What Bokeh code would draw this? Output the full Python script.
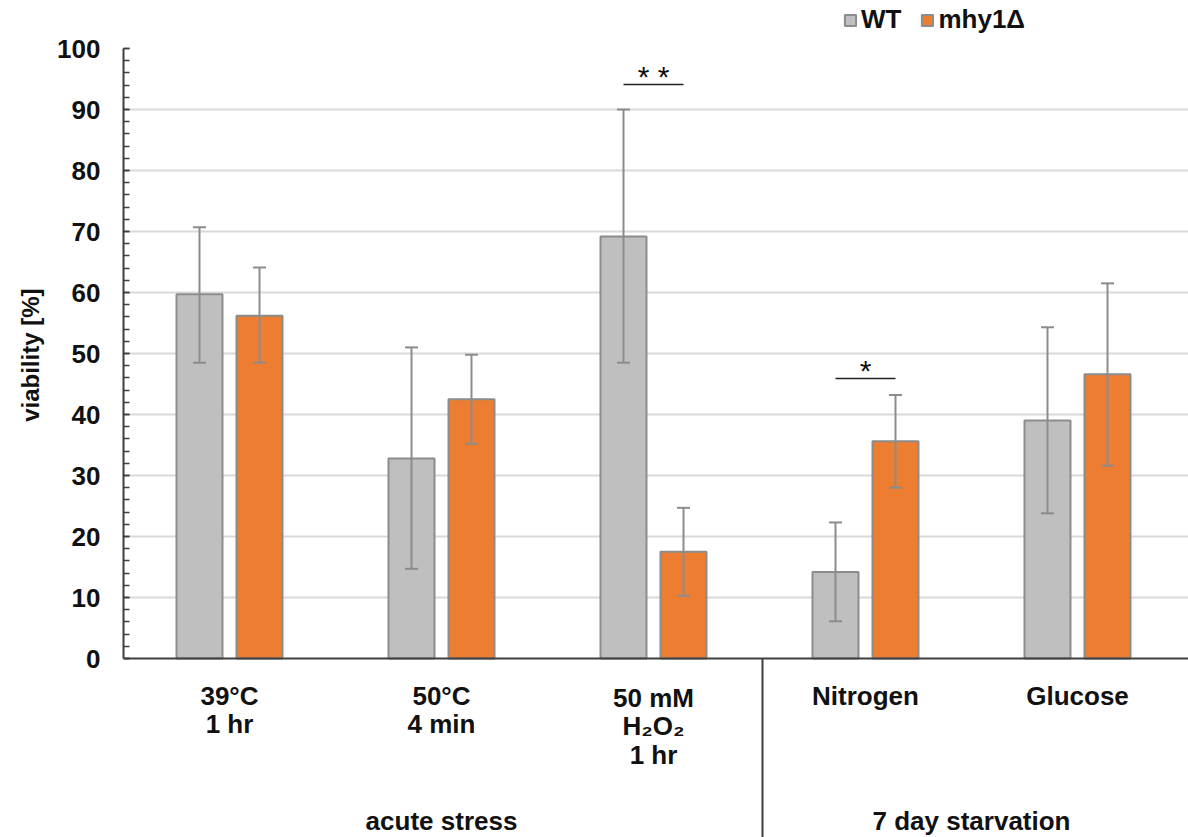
from bokeh.plotting import figure
from bokeh.models import (FixedTicker, Span, Whisker, TeeHead, ColumnDataSource,
                          Legend, LegendItem, Title)
from bokeh.core.properties import value
from bokeh.embed import file_html
from bokeh.resources import INLINE

# ---------------- data ----------------
categories = [["39°C", "1 hr"], ["50°C", "4 min"], ["50 mM", "H₂O₂", "1 hr"],
              ["Nitrogen"], ["Glucose"]]
groups = ["acute stress", "7 day starvation"]
series = ["WT", "mhy1Δ"]
wt_mean = [59.7, 32.8, 69.2, 14.2, 39.0]
wt_lower = [48.5, 14.7, 48.5, 6.1, 23.8]
wt_upper = [70.7, 51.0, 90.0, 22.3, 54.3]
mhy_mean = [56.2, 42.5, 17.5, 35.6, 46.6]
mhy_lower = [48.5, 35.2, 10.3, 28.0, 31.6]
mhy_upper = [64.1, 49.8, 24.7, 43.2, 61.5]
sig_index = [2, 3]
sig_text = ["* *", "*"]
sig_level = [94.1, 45.9]
y_ticks = list(range(0, 101, 10))
y_minor = list(range(0, 101, 2))
grid_ticks = list(range(10, 100, 10))

# ---------------- layout ----------------
W, H = 1188, 837
LEFT = 123
PXU = 6.1            # pixels per y unit
GW = 212.0           # pixels per group
y_start = -(H - 658) / PXU
y_end = 100 + 48 / PXU
x_end = (W - LEFT) / GW
off = 30 / GW
bw = 46 / GW

def py(page_y):
    return (658 - page_y) / PXU

FONT = "Liberation Sans"
TXT = "#111111"
AXC = "#3f3f3f"

p = figure(width=W, height=H, x_range=(0, x_end), y_range=(y_start, y_end),
           x_axis_location=None, output_backend="svg", toolbar_location=None,
           min_border_left=LEFT, min_border_right=0, min_border_top=0,
           min_border_bottom=0)
p.outline_line_color = None
p.background_fill_color = "white"
p.xgrid.visible = False

# grid
p.ygrid.ticker = FixedTicker(ticks=grid_ticks)
p.ygrid.grid_line_color = "#d9d9d9"
p.ygrid.grid_line_width = 2

# y axis
ax = p.yaxis[0]
ax.ticker = FixedTicker(ticks=y_ticks, minor_ticks=y_minor)
ax.bounds = (0, 100)
ax.axis_line_color = AXC
ax.axis_line_width = 2
ax.major_tick_line_color = AXC
ax.minor_tick_line_color = AXC
ax.major_tick_line_width = 1.5
ax.minor_tick_line_width = 1.5
ax.major_tick_in = 6
ax.major_tick_out = 0
ax.minor_tick_in = 6
ax.minor_tick_out = 0
ax.major_label_standoff = 23
ax.major_label_text_font = FONT
ax.major_label_text_font_style = "bold"
ax.major_label_text_font_size = "26px"
ax.major_label_text_color = TXT

# y axis title, placed beside the 0-100 span
p.add_layout(Title(text="viability [%]", align="right", offset=288,
                   vertical_align="bottom", standoff=22, text_font=FONT,
                   text_font_style="bold", text_font_size="24px",
                   text_color=TXT), "left")

# bars
xs = [i + 0.5 for i in range(len(categories))]
wt_x = [x - off for x in xs]
mhy_x = [x + off for x in xs]
r_wt = p.vbar(x=wt_x, top=wt_mean, bottom=0, width=bw, fill_color="#bfbfbf",
              line_color="#8c8c8c", line_width=2)
r_mhy = p.vbar(x=mhy_x, top=mhy_mean, bottom=0, width=bw, fill_color="#ed7d31",
               line_color="#8c8c8c", line_width=2)

# error bars
for bx, lo, up in [(wt_x, wt_lower, wt_upper), (mhy_x, mhy_lower, mhy_upper)]:
    src = ColumnDataSource(dict(base=bx, lower=lo, upper=up))
    p.add_layout(Whisker(source=src, base="base", lower="lower", upper="upper",
                         dimension="height", line_color="#8c8c8c", line_width=2,
                         level="overlay",
                         upper_head=TeeHead(size=13, line_color="#8c8c8c", line_width=2),
                         lower_head=TeeHead(size=13, line_color="#8c8c8c", line_width=2)))

# significance markers
p.segment(x0=[xs[i] - off for i in sig_index], y0=sig_level,
          x1=[xs[i] + off for i in sig_index], y1=sig_level,
          line_color="#222222", line_width=1.5)
p.text(x=[xs[i] for i in sig_index], y=[lv + 8 / PXU for lv in sig_level],
       text=sig_text, text_align="center", text_baseline="middle",
       text_font=value(FONT), text_font_size="30px", text_color=TXT)

# x axis line & separator
p.add_layout(Span(location=0, dimension="width", line_color=AXC, line_width=2))
sep = (762 - LEFT) / GW
p.segment(x0=[sep], y0=[0], x1=[sep], y1=[y_start], line_color=AXC, line_width=2)

# category labels
line_y = [695, 723, 754]
for i, lines in enumerate(categories):
    for k, t in enumerate(lines):
        yy = line_y[k] + (2 if i == 2 and k < 2 else 0)
        p.text(x=[xs[i]], y=[py(yy)], text=[t], text_align="center",
               text_baseline="middle", text_font=value(FONT),
               text_font_style="bold", text_font_size="26px", text_color=TXT)

# group labels (centred under their categories)
group_x = [1.5, 4.0]
p.text(x=group_x, y=[py(820)] * 2, text=groups, text_align="center",
       text_baseline="middle", text_font=value(FONT), text_font_style="bold",
       text_font_size="26px", text_color=TXT)

# legend
legend = Legend(items=[LegendItem(label=series[0], renderers=[r_wt]),
                       LegendItem(label=series[1], renderers=[r_mhy])],
                orientation="horizontal", location=(720, 802),
                border_line_color=None, background_fill_alpha=0,
                padding=0, margin=0, spacing=19, glyph_width=14, glyph_height=14,
                label_standoff=4, label_text_font=FONT, label_text_font_style="bold",
                label_text_font_size="26px", label_text_color=TXT)
p.add_layout(legend)

open("out.html", "w").write(file_html(p, INLINE))
